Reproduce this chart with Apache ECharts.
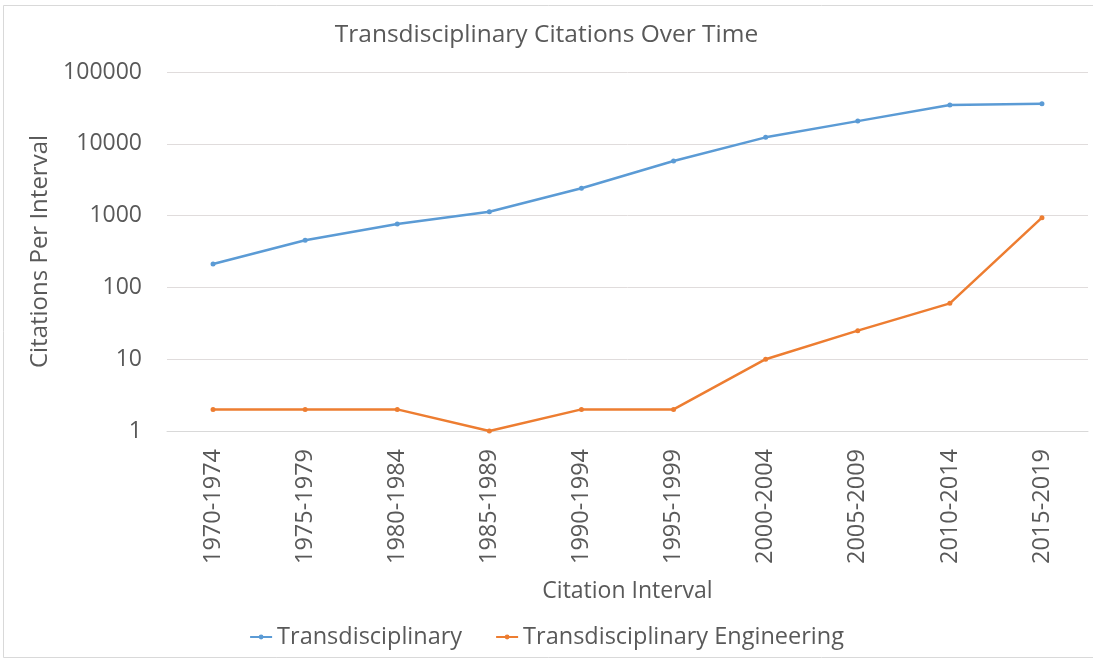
<!DOCTYPE html>
<html><head><meta charset="utf-8">
<script src="https://cdn.jsdelivr.net/npm/echarts@6/dist/echarts.min.js"></script>
<style>html,body{margin:0;padding:0;background:#fff}#c{width:1093px;height:662px}</style>
</head><body><div id="c"></div>
<script>
const categories = ['1970-1974','1975-1979','1980-1984','1985-1989','1990-1994','1995-1999','2000-2004','2005-2009','2010-2014','2015-2019'];
const transdisciplinary = [212, 453, 764, 1133, 2400, 5750, 12300, 20700, 34700, 36000];
const transEngineering = [2, 2, 2, 1, 2, 2, 10, 25, 60, 935];
const seriesNames = ['Transdisciplinary', 'Transdisciplinary Engineering'];
const FONT = '"Open Sans", "Liberation Sans", sans-serif';
const chart = echarts.init(document.getElementById('c'));
chart.setOption({
  animation: false,
  backgroundColor: '#fff',
  title: {text: 'Transdisciplinary Citations Over Time', left: 'center', top: 18,
    textStyle: {fontFamily: FONT, fontSize: 24.5, fontWeight: 'normal', color: '#595959'}},
  grid: {left: 167, right: 5, top: 72, bottom: 231},
  legend: {bottom: 8, left: 'center', itemGap: 33, itemWidth: 22, itemHeight: 6,
    textStyle: {fontFamily: FONT, fontSize: 23.5, color: '#595959'}},
  xAxis: {type: 'category', data: categories, boundaryGap: true,
    name: 'Citation Interval', nameLocation: 'middle', nameGap: 149,
    nameTextStyle: {fontFamily: FONT, fontSize: 23, color: '#595959'},
    axisLine: {lineStyle: {color: '#d9d9d9', width: 1}}, axisTick: {show: false},
    axisLabel: {rotate: 90, interval: 0, margin: 18, fontFamily: FONT, fontSize: 23.5, color: '#595959'}},
  yAxis: {type: 'log', logBase: 10, min: 1, max: 100000,
    name: 'Citations Per Interval', nameLocation: 'middle', nameGap: 113,
    nameTextStyle: {fontFamily: FONT, fontSize: 24, color: '#595959'},
    axisLine: {show: false}, axisTick: {show: false},
    splitLine: {lineStyle: {color: '#e0dcdc', width: 1}},
    axisLabel: {margin: 25, fontFamily: FONT, fontSize: 23, color: '#595959', formatter: v => String(Math.round(v))}},
  series: [
    {name: seriesNames[0], type: 'line', data: transdisciplinary, symbol: 'circle', symbolSize: 5,
      lineStyle: {color: '#5b9bd5', width: 2.5}, itemStyle: {color: '#5b9bd5'}},
    {name: seriesNames[1], type: 'line', data: transEngineering, symbol: 'circle', symbolSize: 5,
      lineStyle: {color: '#ed7d31', width: 2.5}, itemStyle: {color: '#ed7d31'}}
  ],
  graphic: [{type: 'rect', shape: {x: 3.5, y: 5.5, width: 1100, height: 652}, silent: true,
    style: {fill: 'none', stroke: '#d9d9d9', lineWidth: 1}}]
});
</script></body></html>
